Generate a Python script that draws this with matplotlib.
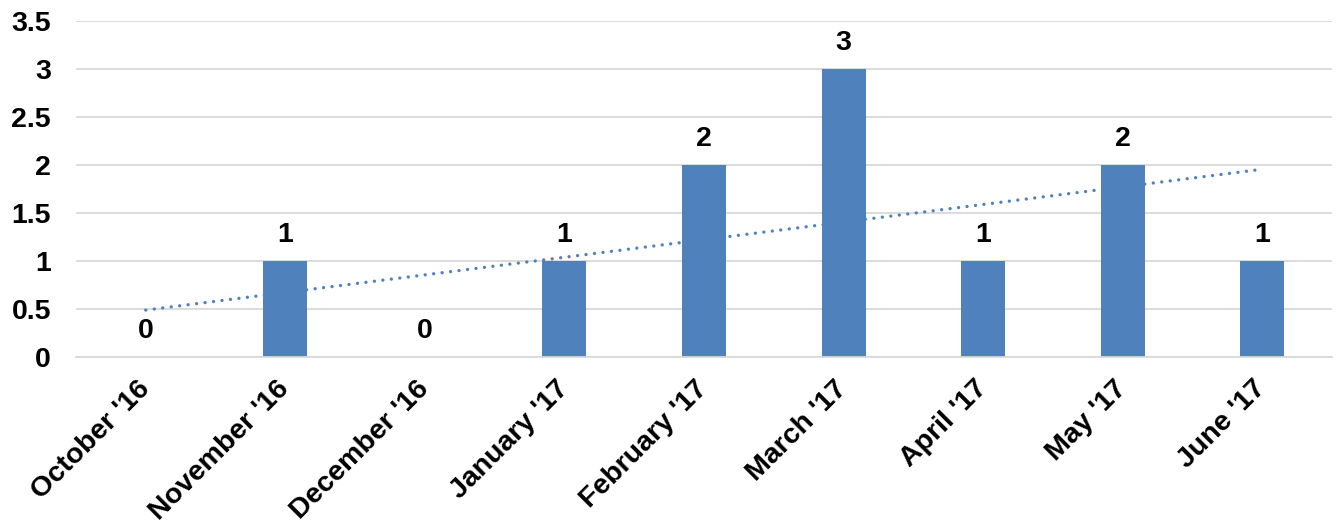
import numpy as np
import matplotlib
matplotlib.use("Agg")
import matplotlib.pyplot as plt

plt.rcParams['font.family'] = ['Liberation Sans', 'DejaVu Sans']

months = ["October '16", "November '16", "December '16", "January '17",
          "February '17", "March '17", "April '17", "May '17", "June '17"]
counts = [0, 1, 0, 1, 2, 3, 1, 2, 1]
y_ticks = [0, 0.5, 1, 1.5, 2, 2.5, 3, 3.5]
y_tick_labels = ["0", "0.5", "1", "1.5", "2", "2.5", "3", "3.5"]

bar_color = "#4F81BD"
grid_color = "#D9D9D9"
fs = 20.5

W, H, DPI = 1336, 527, 100
fig = plt.figure(figsize=(W / DPI, H / DPI), dpi=DPI)
ax = fig.add_axes([76 / W, 1 - 357 / H, 1256 / W, 336 / H])

x = np.arange(len(months))
ax.bar(x, counts, width=0.315, color=bar_color, zorder=2)

# linear trendline fitted to the monthly counts
slope, intercept = np.polyfit(x, counts, 1)
ax.plot(x, slope * x + intercept, color=bar_color, lw=2.4,
        linestyle=(0, (0.01, 2.55)), dash_capstyle='round', zorder=3)

for xi, v in zip(x, counts):
    ax.annotate(str(v), (xi, v), xytext=(0, 9), textcoords='offset points',
                ha='center', va='bottom', fontsize=fs, fontweight='bold')

ax.set_xlim(-0.5, len(months) - 0.5)
ax.set_ylim(0, 3.5)
ax.set_yticks(y_ticks)
ax.set_yticklabels(y_tick_labels, fontsize=fs, fontweight='bold')
ax.set_xticks(x)
ax.set_xticklabels(months, fontsize=fs, fontweight='bold',
                   rotation=45, ha='right', va='center', rotation_mode='anchor')
ax.tick_params(axis='both', length=0)
ax.tick_params(axis='y', pad=18)
ax.tick_params(axis='x', pad=20)

ax.grid(axis='y', color=grid_color, lw=1.3, zorder=0)
for s in ['top', 'right', 'left']:
    ax.spines[s].set_visible(False)
ax.spines['bottom'].set_color(grid_color)
ax.spines['bottom'].set_linewidth(1.3)

fig.savefig("out.png", dpi=DPI)
